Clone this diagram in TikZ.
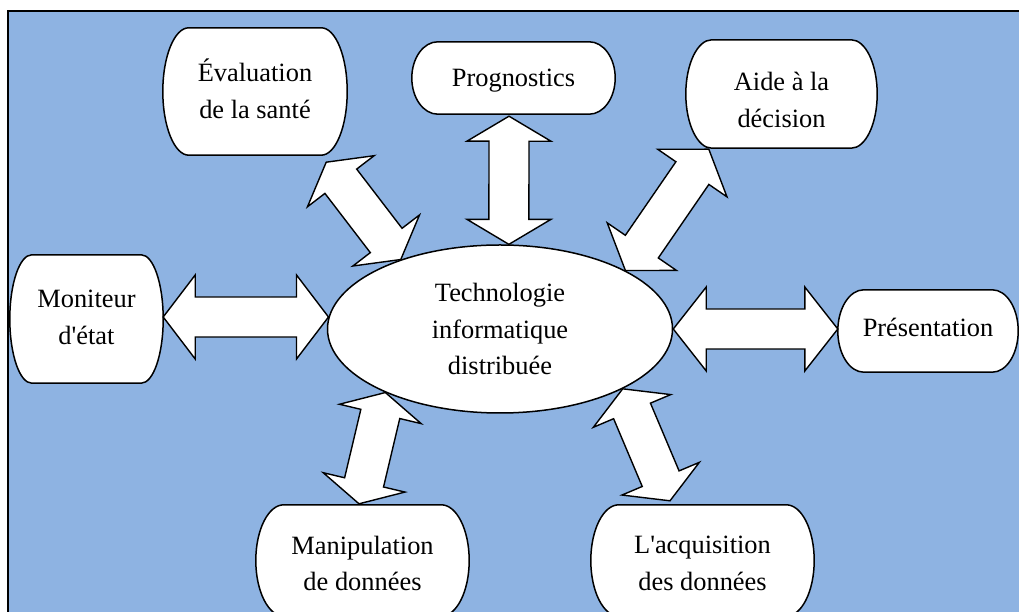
\documentclass[tikz,border=0pt]{standalone}
\usepackage{fontspec}
\setmainfont{Liberation Serif}
\usetikzlibrary{calc,shapes.geometric}

\definecolor{panelblue}{RGB}{142,179,226}
\pgfdeclarelayer{back}
\pgfdeclarelayer{mid}
\pgfsetlayers{back,mid,main}

\tikzset{
  labeltext/.style={align=center, inner sep=0pt,
    font=\fontsize{26.4}{36.8}\selectfont},
  boxarea/.style={inner sep=0pt, minimum width=#1},
  boxline/.style={draw=black, line width=1.5pt, fill=white},
  hub/.style={ellipse, draw=black, line width=1.5pt, fill=white,
    inner sep=0pt, minimum width=345pt, minimum height=168pt,
    align=center, font=\fontsize{26.4}{36.8}\selectfont},
  blockarrow/.style={draw=black, line width=1.4pt, fill=white,
    line join=miter},
}

% outline of a label box: straight top and bottom, half-elliptic ends
% #1 node name, #2 horizontal radius of the ends (pt)
\newcommand\termbox[2]{%
  \begin{pgfonlayer}{mid}
  \path[boxline] let \p1=(#1.south west), \p2=(#1.north east),
      \n1={(\y2-\y1)/2} in
    (\x1+#2pt,\y1) -- (\x2-#2pt,\y1)
    arc[start angle=-90, end angle=90, x radius=#2pt, y radius=\n1*1pt]
    -- (\x1+#2pt,\y2)
    arc[start angle=90, end angle=270, x radius=#2pt, y radius=\n1*1pt]
    -- cycle;
  \end{pgfonlayer}}

% double-headed block arrow between two points, #3 = head length
\newcommand\twoway[3]{%
  \coordinate (ha) at ($(#1)!#3!(#2)$);
  \coordinate (hb) at ($(#2)!#3!(#1)$);
  \path[blockarrow] (#1)
    -- ($(ha)!42pt!90:(#2)$) -- ($(ha)!20pt!90:(#2)$)
    -- ($(hb)!20pt!-90:(#1)$) -- ($(hb)!42pt!-90:(#1)$)
    -- (#2)
    -- ($(hb)!42pt!90:(#1)$) -- ($(hb)!20pt!90:(#1)$)
    -- ($(ha)!20pt!-90:(#2)$) -- ($(ha)!42pt!-90:(#2)$)
    -- cycle;}

\begin{document}
\begin{tikzpicture}[x=1pt,y=1pt]
  \useasboundingbox (0,0) rectangle (1019,612);

  % panel
  \begin{pgfonlayer}{back}
    \path[fill=white] (0,0) rectangle (1019,612);
    \draw[line width=1.5pt, fill=panelblue] (8,601) rectangle (1040,-30);
  \end{pgfonlayer}

  % central hub
  \node[hub] (tech) at (500,283) {Technologie\\informatique\\distribuée};

  % surrounding function boxes
  \node[inner sep=0pt, minimum width=184pt, minimum height=127pt] (eval) at (255,520.5) {};
  \node[inner sep=0pt, minimum width=203pt, minimum height=72pt]  (prog) at (513.5,534) {};
  \node[inner sep=0pt, minimum width=191pt, minimum height=108pt] (aide) at (781.5,518) {};
  \node[inner sep=0pt, minimum width=153pt, minimum height=128pt] (moni) at (86.5,293) {};
  \node[inner sep=0pt, minimum width=180pt, minimum height=82pt]  (pres) at (928,281) {};
  \node[inner sep=0pt, minimum width=213pt, minimum height=111pt] (mani) at (362.5,51.5) {};
  \node[inner sep=0pt, minimum width=223pt, minimum height=111pt] (acq)  at (702.5,51.5) {};

  \termbox{eval}{26}
  \termbox{prog}{26}
  \termbox{aide}{26}
  \termbox{moni}{22}
  \termbox{pres}{26}
  \termbox{mani}{28}
  \termbox{acq}{28}

  % their labels
  \node[labeltext] (evalText) at ($(eval)+(0,3)$)  {Évaluation\\de la santé};
  \node[labeltext] (progText) at ($(prog)+(0,-3)$) {Prognostics};
  \node[labeltext] (aideText) at ($(aide)+(0,-6)$) {Aide à la\\décision};
  \node[labeltext] (moniText) at ($(moni)+(0,1.5)$) {Moniteur\\d\textquotesingle état};
  \node[labeltext] (presText) at ($(pres)+(0,4)$)  {Présentation};
  \node[labeltext] (maniText) at ($(mani)+(0,-3)$) {Manipulation\\de données};
  \node[labeltext] (acqText)  at ($(acq)+(0,-3)$)  {L\textquotesingle acquisition\\des données};

  % arrow ends at the boxes
  \coordinate (evalEnd) at ($(eval.south east)+(-21,-7)$);
  \coordinate (progEnd) at ($(prog.south)+(-4.5,-2)$);
  \coordinate (aideEnd) at ($(aide.south west)+(23,-1)$);
  \coordinate (moniEnd) at ($(moni.east)+(0,2)$);
  \coordinate (presEnd) at ($(pres.west)+(0,2)$);
  \coordinate (maniEnd) at ($(mani.north)+(-3.5,1)$);
  \coordinate (acqEnd)  at ($(acq.north)+(-32.5,4)$);

  % two-way links with the hub
  \twoway{evalEnd}{tech.145}{24pt}
  \twoway{progEnd}{tech.84}{25pt}
  \twoway{aideEnd}{tech.25}{29pt}
  \twoway{moniEnd}{tech.176}{32pt}
  \twoway{tech.0}{presEnd}{33pt}
  \twoway{tech.209}{maniEnd}{22pt}
  \twoway{tech.334}{acqEnd}{24pt}
\end{tikzpicture}
\end{document}
